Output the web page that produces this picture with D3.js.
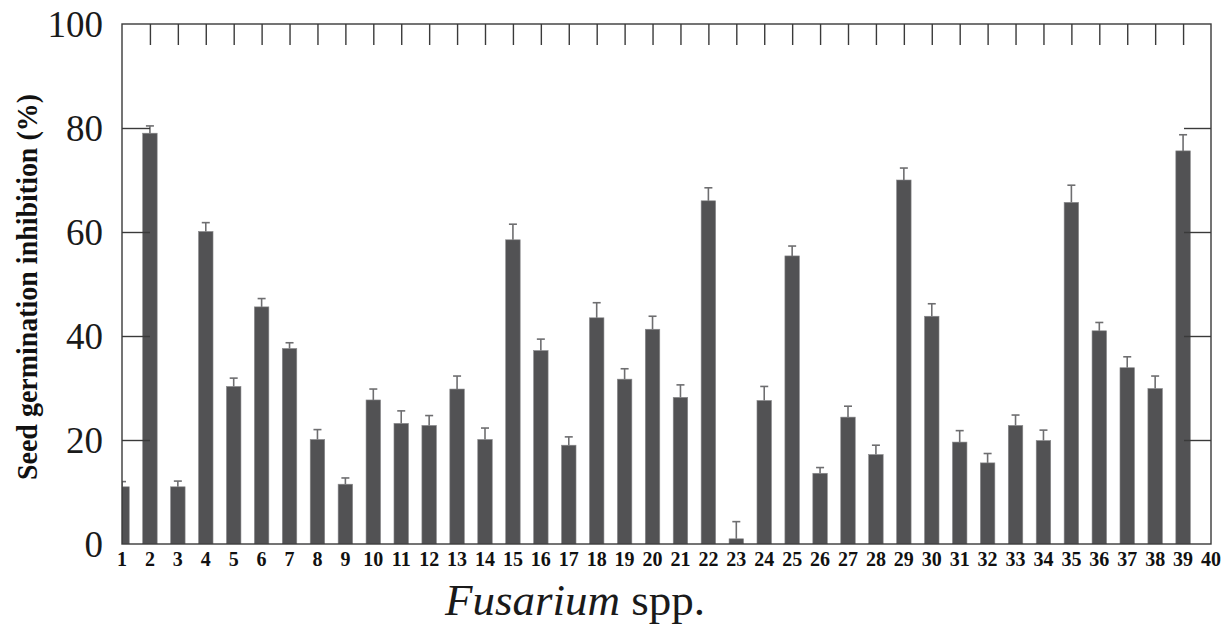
<!DOCTYPE html>
<html>
<head>
<meta charset="utf-8">
<script src="https://cdn.jsdelivr.net/npm/d3@7"></script>
<style>
  body { margin: 0; background: #fff; }
  svg { display: block; }
</style>
</head>
<body>
<div class="chart"></div>
<script>
// -------------------DATA
var strains = d3.range(1, 41);
var inhibition = [11.0, 79.0, 11.0, 60.1, 30.3, 45.6, 37.6, 20.1, 11.5, 27.7,
                  23.2, 22.8, 29.8, 20.1, 58.5, 37.2, 19.0, 43.5, 31.7, 41.3,
                  28.2, 66.0, 1.0, 27.6, 55.4, 13.6, 24.4, 17.2, 70.0, 43.8,
                  19.6, 15.6, 22.8, 19.9, 65.7, 41.0, 33.9, 29.9, 75.6];
var errorUp = [1.0, 1.4, 1.1, 1.7, 1.6, 1.6, 1.1, 1.9, 1.2, 2.1,
               2.4, 1.9, 2.5, 2.2, 3.0, 2.2, 1.6, 2.9, 2.0, 2.5,
               2.4, 2.5, 3.3, 2.7, 1.9, 1.1, 2.1, 1.8, 2.3, 2.4,
               2.2, 1.8, 2.0, 2.0, 3.3, 1.6, 2.1, 2.4, 3.1];
var yTicks = [0, 20, 40, 60, 80, 100];

var width = 1230;
var height = 627;
var margin = {left:122, right:19, top:24, bottom:83};
var barColor = "#525254";

// ---------------------------------- SVG
var svg = d3.select(".chart").append("svg")
  .attr("width", width)
  .attr("height", height);

var x = d3.scaleLinear()
  .domain([1, 40])
  .range([margin.left, width - margin.right]);

var y = d3.scaleLinear()
  .domain([0, 100])
  .range([height - margin.bottom, margin.top]);

svg.append("clipPath").attr("id", "plot-clip")
  .append("rect")
  .attr("x", x(1)).attr("y", y(100))
  .attr("width", x(40) - x(1)).attr("height", y(0) - y(100));

var barW = 14.5;
var data = inhibition.map(function(v, i){ return {n: strains[i], v: v, e: errorUp[i]}; });

var plot = svg.append("g").attr("clip-path", "url(#plot-clip)");

// ---------------------------------- BARS
plot.selectAll("rect.bar")
  .data(data)
  .enter().append("rect")
    .attr("class", "bar")
    .attr("x", function(d){ return x(d.n) - barW / 2; })
    .attr("y", function(d){ return y(d.v); })
    .attr("width", barW)
    .attr("height", function(d){ return y(0) - y(d.v); })
    .attr("fill", barColor)
    .attr("stroke", "#8a8a8c")
    .attr("stroke-width", 0.6);

// ---------------------------------- ERROR BARS
var err = plot.selectAll("g.err")
  .data(data)
  .enter().append("g")
    .attr("class", "err")
    .attr("stroke", "#6e6e70")
    .attr("stroke-width", 1.6);

err.append("line")
  .attr("x1", function(d){ return x(d.n); })
  .attr("x2", function(d){ return x(d.n); })
  .attr("y1", function(d){ return y(d.v); })
  .attr("y2", function(d){ return y(d.v + d.e); });

err.append("line")
  .attr("x1", function(d){ return x(d.n) - 4; })
  .attr("x2", function(d){ return x(d.n) + 4; })
  .attr("y1", function(d){ return y(d.v + d.e); })
  .attr("y2", function(d){ return y(d.v + d.e); });

// ---------------------------------- FRAME AND TICKS
var axisColor = "#3a3a3a";

svg.append("rect")
  .attr("x", x(1)).attr("y", y(100))
  .attr("width", x(40) - x(1)).attr("height", y(0) - y(100))
  .attr("fill", "none")
  .attr("stroke", axisColor)
  .attr("stroke-width", 1.4);

// top ticks pointing down
svg.append("g")
  .attr("transform", "translate(0," + y(100) + ")")
  .call(d3.axisBottom(x).tickValues(strains.slice(1, 39)).tickSize(21).tickFormat(""))
  .call(function(g){ g.select(".domain").remove(); })
  .selectAll("line").attr("stroke", axisColor).attr("stroke-width", 1.4);

// left and right inward ticks
svg.append("g")
  .attr("transform", "translate(" + x(1) + ",0)")
  .call(d3.axisRight(y).tickValues([20, 40, 60, 80]).tickSize(28).tickFormat(""))
  .call(function(g){ g.select(".domain").remove(); })
  .selectAll("line").attr("stroke", axisColor).attr("stroke-width", 1.4);

svg.append("g")
  .attr("transform", "translate(" + x(40) + ",0)")
  .call(d3.axisLeft(y).tickValues([20, 40, 60, 80]).tickSize(27).tickFormat(""))
  .call(function(g){ g.select(".domain").remove(); })
  .selectAll("line").attr("stroke", axisColor).attr("stroke-width", 1.4);

// ---------------------------------- LABELS
var serif = "'Liberation Serif', 'Times New Roman', serif";

svg.append("g").selectAll("text")
  .data(yTicks)
  .enter().append("text")
    .attr("x", 103)
    .attr("y", function(d){ return y(d); })
    .attr("dy", "0.36em")
    .attr("text-anchor", "end")
    .style("font-family", serif)
    .style("font-size", "37px")
    .style("fill", "#1a1a1a")
    .text(function(d){ return d; });

svg.append("g").selectAll("text")
  .data(strains)
  .enter().append("text")
    .attr("x", function(d){ return x(d); })
    .attr("y", 566)
    .attr("text-anchor", "middle")
    .style("font-family", serif)
    .style("font-weight", "bold")
    .style("font-size", "20px")
    .style("fill", "#111")
    .text(function(d){ return d; });

svg.append("text")
  .attr("transform", "translate(37,287) rotate(-90)")
  .attr("text-anchor", "middle")
  .attr("textLength", 386)
  .attr("lengthAdjust", "spacingAndGlyphs")
  .style("font-family", serif)
  .style("font-weight", "bold")
  .style("font-size", "29px")
  .style("fill", "#111")
  .text("Seed germination inhibition (%)");

var xTitle = svg.append("text")
  .attr("x", 575)
  .attr("y", 615)
  .attr("text-anchor", "middle")
  .style("font-family", serif)
  .style("font-size", "45px")
  .style("fill", "#1a1a1a");
xTitle.append("tspan").style("font-style", "italic").text("Fusarium");
xTitle.append("tspan").text(" spp.");
</script>
</body>
</html>
